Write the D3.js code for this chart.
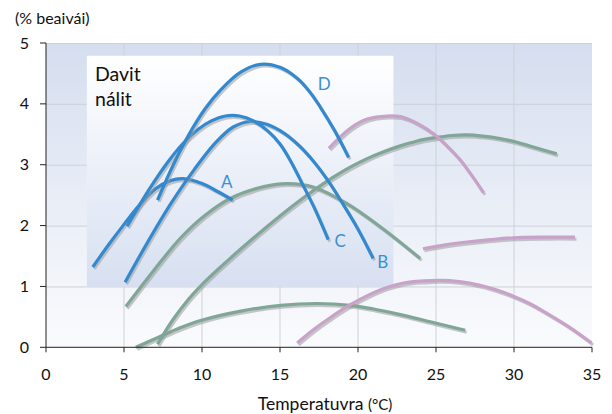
<!DOCTYPE html>
<html><head><meta charset="utf-8">
<script src="https://cdn.jsdelivr.net/npm/d3@7"></script>
<style>
body{margin:0;background:#fff}
svg{display:block}
text{font-family:Lato,"Open Sans",sans-serif;fill:#111}
</style>
</head><body>
<svg id="chart" width="612" height="414"></svg>
<script>
// ---- data (temperature °C, % per day) ----
const xTicks = [0, 5, 10, 15, 20, 25, 30, 35];
const yTicks = [0, 1, 2, 3, 4, 5];
const yLabel = "(% beaivái)";
const xLabel = "Temperatuvra";
const xUnit = "(°C)";
const insetTitle = ["Davit", "nálit"];

// blue curves (labelled)
const curveA = [[3.0,1.32],[4.0,1.68],[5.0,2.02],[6.0,2.34],[7.0,2.60],[8.0,2.74],[8.8,2.77],[10.0,2.69],[11.0,2.56],[11.96,2.42]];
const curveB = [[5.07,1.07],[6.5,1.72],[8.0,2.36],[9.5,2.92],[10.9,3.37],[12.0,3.62],[13.1,3.71],[14.2,3.66],[15.25,3.52],[16.2,3.32],[17.17,3.05],[18.1,2.73],[18.9,2.41],[20.0,1.94],[20.97,1.46]];
const curveC = [[5.2,1.99],[6.0,2.34],[6.83,2.68],[7.8,3.04],[8.75,3.34],[9.8,3.59],[10.6,3.72],[11.5,3.80],[12.4,3.80],[13.3,3.72],[14.2,3.56],[15.0,3.34],[15.7,3.05],[16.4,2.70],[17.2,2.29],[18.09,1.77]];
const curveD = [[7.15,2.42],[8.2,3.02],[9.17,3.50],[10.2,3.92],[11.2,4.23],[12.48,4.52],[13.76,4.65],[15.0,4.60],[16.1,4.42],[16.9,4.20],[17.6,3.94],[18.5,3.56],[19.4,3.12]];
// green curves
const green1 = [[5.12,0.67],[6.93,1.27],[8.64,1.80],[10.2,2.17],[11.84,2.45],[13.97,2.64],[15.46,2.69],[17.17,2.63],[19.3,2.36],[21.43,1.98],[23.99,1.46]];
const green2 = [[7.15,0.05],[8.1,0.44],[9.07,0.77],[10.0,1.03],[10.98,1.27],[11.84,1.47],[13.0,1.73],[14.2,1.99],[15.3,2.22],[16.31,2.42],[17.17,2.58],[18.44,2.80],[19.5,2.96],[20.58,3.10],[21.6,3.21],[22.71,3.31],[23.8,3.39],[24.84,3.44],[26.0,3.48],[26.98,3.49],[28.0,3.47],[29.11,3.43],[30.2,3.37],[31.24,3.29],[32.74,3.18]];
const green3 = [[5.76,0.0],[7.25,0.17],[8.6,0.32],[9.92,0.44],[12.4,0.59],[15.04,0.69],[17.38,0.72],[19.51,0.69],[21.0,0.63],[22.5,0.55],[24.63,0.42],[26.87,0.28]];
// pink curves
const pink1 = [[18.13,3.27],[19.51,3.60],[20.6,3.75],[21.86,3.80],[22.71,3.79],[23.8,3.68],[24.84,3.51],[25.7,3.31],[26.55,3.08],[27.3,2.82],[28.04,2.54]];
const pink2 = [[24.16,1.62],[25.5,1.68],[26.98,1.73],[28.5,1.77],[29.96,1.80],[32.0,1.81],[33.91,1.81]];
const pink3 = [[16.1,0.07],[17.2,0.30],[18.23,0.49],[19.51,0.70],[20.6,0.85],[21.8,0.98],[23.0,1.06],[24.2,1.09],[25.2,1.10],[26.5,1.08],[27.83,1.02],[28.9,0.94],[29.96,0.84],[31.0,0.72],[32.1,0.56],[33.5,0.34],[34.98,0.07]];

const curveNames = ["A", "B", "C", "D"];

// ---- drawing ----
const svg = d3.select("#chart");
const L = 46, R = 592, T = 43, B = 347.3;
const x = d3.scaleLinear().domain([0, 35]).range([L, R]);
const y = d3.scaleLinear().domain([0, 5]).range([B, T]);

const defs = svg.append("defs");
const bg = defs.append("linearGradient").attr("id","bg").attr("x1",0).attr("y1",0).attr("x2",0).attr("y2",1);
bg.append("stop").attr("offset","0%").attr("stop-color","#d5deef");
bg.append("stop").attr("offset","100%").attr("stop-color","#fafbfd");
const ib = defs.append("linearGradient").attr("id","ib").attr("x1",0).attr("y1",0).attr("x2",0).attr("y2",1);
ib.append("stop").attr("offset","0%").attr("stop-color","#ffffff");
ib.append("stop").attr("offset","100%").attr("stop-color","#d7e0f1");

svg.append("rect").attr("x",L).attr("y",T).attr("width",R-L).attr("height",B-T).attr("fill","url(#bg)");

// grid
svg.append("g").selectAll("line").data(yTicks.filter(d=>d>0)).join("line")
  .attr("x1",L).attr("x2",R).attr("y1",d=>y(d)+0.5).attr("y2",d=>y(d)+0.5)
  .attr("stroke","#cdd1d8").attr("stroke-width",1);
svg.append("g").selectAll("line").data(xTicks.filter(d=>d>0 && d<35)).join("line")
  .attr("y1",T).attr("y2",B).attr("x1",d=>x(d)).attr("x2",d=>x(d))
  .attr("stroke","#cdd1d8").attr("stroke-width",1);

// inset box (extent in data units)
svg.append("rect").attr("x",x(2.62)).attr("y",y(4.79)).attr("width",x(22.27)-x(2.62)).attr("height",y(1.0)-y(4.79))
  .attr("fill","url(#ib)");

svg.append("text").attr("x",95).attr("y",81).attr("font-size",19.5).text(insetTitle[0]);
svg.append("text").attr("x",95).attr("y",106).attr("font-size",19.5).text(insetTitle[1]);

// curves
const line = d3.line().x(d=>x(d[0])).y(d=>y(d[1])).curve(d3.curveCatmullRom.alpha(0.5));
const series = [
  {pts: green3, col:"#7fa696"}, {pts: green2, col:"#7fa696"}, {pts: green1, col:"#7fa696"},
  {pts: pink3, col:"#c9a2c9"}, {pts: pink2, col:"#c9a2c9"}, {pts: pink1, col:"#c9a2c9"},
  {pts: curveA, col:"#3389cf"}, {pts: curveB, col:"#3389cf"}, {pts: curveC, col:"#3389cf"}, {pts: curveD, col:"#3389cf"}
];
const cg = svg.append("g");
series.forEach(s => {
  cg.append("path").attr("d", line(s.pts)).attr("fill","none").attr("stroke","#9a9a9a")
    .attr("stroke-opacity",0.55).attr("stroke-width",3).attr("transform","translate(1.5,2)");
  cg.append("path").attr("d", line(s.pts)).attr("fill","none").attr("stroke",s.col)
    .attr("stroke-width",3.2);
});

// curve labels (annotation anchors in data units)
const labelAt = {A:[11.58,2.71], B:[21.58,1.40], C:[18.85,1.74], D:[17.84,4.33]};
curveNames.forEach(n => {
  svg.append("text").attr("x",x(labelAt[n][0])).attr("y",y(labelAt[n][1])+6)
    .attr("text-anchor","middle").attr("font-size",17).style("fill","#3a90d4").text(n);
});

// axes
svg.append("line").attr("x1",L).attr("x2",L).attr("y1",T).attr("y2",B).attr("stroke","#222").attr("stroke-width",1);
svg.append("line").attr("x1",L).attr("x2",R).attr("y1",B).attr("y2",B).attr("stroke","#222").attr("stroke-width",1);
svg.append("g").selectAll("line").data(yTicks).join("line")
  .attr("x1",L-6).attr("x2",L).attr("y1",d=>y(d)).attr("y2",d=>y(d)).attr("stroke","#222");
svg.append("g").selectAll("line").data(xTicks).join("line")
  .attr("x1",d=>x(d)).attr("x2",d=>x(d)).attr("y1",B).attr("y2",B+5).attr("stroke","#222");
svg.append("g").selectAll("text").data(yTicks).join("text")
  .attr("x",29).attr("y",d=>y(d)+5.5).attr("text-anchor","end").attr("font-size",16).text(d=>d);
svg.append("g").selectAll("text").data(xTicks).join("text")
  .attr("x",d=>x(d)).attr("y",380).attr("text-anchor","middle").attr("font-size",16).text(d=>d);

svg.append("text").attr("x",15).attr("y",24).attr("font-size",16).text(yLabel);
const xt = svg.append("text").attr("x",325).attr("y",410).attr("text-anchor","middle").attr("font-size",17.5);
xt.append("tspan").text(xLabel + " ");
xt.append("tspan").attr("font-size",15).text(xUnit);
</script>
</body></html>
